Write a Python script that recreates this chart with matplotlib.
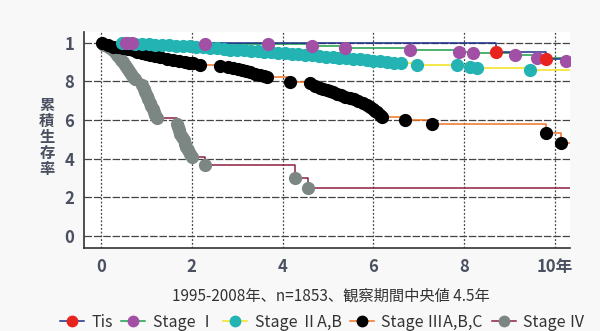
import matplotlib.pyplot as plt

plt.rcParams['font.family'] = ['Noto Sans CJK JP', 'DejaVu Sans']

# Kaplan-Meier style data (time in years, cumulative survival 0-1)
# first entry of each list is the start point (no marker)
tis_t = [0.0, 8.70, 9.80]
tis_s = [1.0, 0.953, 0.915]

st1_t = [0.0, 0.55, 0.68, 2.29, 3.68, 4.65, 5.37, 6.81, 7.89, 8.19, 9.12, 9.60, 10.24]
st1_s = [1.0, 0.998, 0.997, 0.995, 0.993, 0.982, 0.972, 0.961, 0.951, 0.946, 0.935, 0.920, 0.904]

st2_t = [0.0, 0.46, 0.60, 0.75, 0.90, 1.05, 1.20, 1.35, 1.50, 1.65, 1.80, 1.95, 2.10,
         2.25, 2.40, 2.55, 2.70, 2.85, 3.00, 3.15, 3.30, 3.45, 3.60, 3.75, 3.90, 4.05,
         4.20, 4.35, 4.50, 4.65, 4.80, 4.95, 5.10, 5.25, 5.40, 5.55, 5.70, 5.85, 6.00,
         6.15, 6.30, 6.45, 6.60, 6.96, 7.84, 8.13, 8.28, 9.45]
st2_s = [1.0, 0.997, 0.996, 0.995, 0.993, 0.991, 0.990, 0.988, 0.986, 0.984, 0.982, 0.980, 0.978,
         0.975, 0.972, 0.970, 0.967, 0.964, 0.962, 0.960, 0.957, 0.955, 0.952, 0.950, 0.948, 0.946,
         0.943, 0.940, 0.937, 0.934, 0.931, 0.928, 0.925, 0.922, 0.919, 0.916, 0.913, 0.910, 0.907,
         0.903, 0.900, 0.897, 0.894, 0.884, 0.884, 0.873, 0.868, 0.858]

st3_t = [0.0, 0.02, 0.15, 0.26, 0.37, 0.48, 0.59, 0.70, 0.80, 0.90, 0.99, 1.08, 1.19, 1.30,
         1.45, 1.59, 1.72, 1.85, 1.94, 2.03, 2.18, 2.62, 2.80, 2.91, 3.01, 3.11, 3.20, 3.28,
         3.39, 3.50, 3.58, 3.66, 4.16, 4.60, 4.71, 4.82, 4.90, 4.98, 5.05, 5.11, 5.20, 5.29,
         5.38, 5.48, 5.57, 5.66, 5.76, 5.86, 5.93, 5.99, 6.04, 6.08, 6.14, 6.19, 6.70, 7.29,
         9.80, 10.13]
st3_s = [1.0, 0.997, 0.987, 0.977, 0.975, 0.972, 0.966, 0.961, 0.954, 0.946, 0.941, 0.936, 0.930, 0.925,
         0.917, 0.910, 0.904, 0.899, 0.896, 0.894, 0.884, 0.879, 0.873, 0.868, 0.863, 0.858, 0.853, 0.848,
         0.840, 0.832, 0.827, 0.822, 0.796, 0.791, 0.778, 0.765, 0.760, 0.755, 0.750, 0.744, 0.736, 0.729,
         0.721, 0.713, 0.706, 0.698, 0.687, 0.677, 0.666, 0.656, 0.648, 0.641, 0.628, 0.615, 0.599, 0.579,
         0.532, 0.481]

st4_t = [0.0, 0.07, 0.14, 0.20, 0.26, 0.31, 0.36, 0.40, 0.44, 0.48, 0.53, 0.57, 0.62, 0.66,
         0.71, 0.75, 0.90, 0.94, 0.97, 1.01, 1.04, 1.07, 1.10, 1.14, 1.17, 1.20, 1.23, 1.67,
         1.70, 1.72, 1.75, 1.78, 1.82, 1.85, 1.88, 1.92, 1.96, 2.00, 2.29, 4.27, 4.56]
st4_s = [1.0, 0.987, 0.980, 0.972, 0.962, 0.951, 0.938, 0.925, 0.912, 0.899, 0.884, 0.868, 0.852, 0.837,
         0.824, 0.811, 0.780, 0.762, 0.744, 0.726, 0.708, 0.690, 0.672, 0.656, 0.641, 0.626, 0.610, 0.579,
         0.564, 0.548, 0.530, 0.512, 0.494, 0.475, 0.460, 0.444, 0.426, 0.408, 0.367, 0.300, 0.248]

series = [
    ("Stage Ⅳ", st4_t, st4_s, "#8b1f3f", "#7c8784"),
    ("Stage ⅢA,B,C", st3_t, st3_s, "#ef7424", "#000000"),
    ("Stage ⅡA,B", st2_t, st2_s, "#f2e21a", "#23b3b3"),
    ("Stage Ⅰ", st1_t, st1_s, "#1a9e48", "#a24fa6"),
    ("Tis", tis_t, tis_s, "#1c2f8a", "#e8231d"),
]
legend_order = ["Tis", "Stage Ⅰ", "Stage ⅡA,B", "Stage ⅢA,B,C", "Stage Ⅳ"]
end_x = 10.33

fig = plt.figure(figsize=(6, 3.31), dpi=100)
fig.patch.set_facecolor('#f8f8f8')
ax = fig.add_axes([0.14, 0.2508, 0.81, 0.652])
ax.set_facecolor('white')

handles = {}
for i, (name, t, s, lc, mc) in enumerate(series):
    ax.step(t + [end_x], s + [s[-1]], where='post', color=lc, lw=1.1, zorder=3 + i)
    ax.plot(t[1:], s[1:], 'o', color=mc, ms=9.5, mec='none', zorder=10 + i)
    h, = ax.plot([], [], '-o', color=lc, mfc=mc, mec='none', ms=8.5, lw=1.1)
    handles[name] = h

ax.set_xlim(-0.374, end_x)
ax.set_ylim(-0.062, 1.054)
ax.set_xticks([0, 2, 4, 6, 8, 10])
ax.set_xticklabels(['0', '2', '4', '6', '8', '10年'])
ax.set_yticks([0, 0.2, 0.4, 0.6, 0.8, 1.0])
ax.set_yticklabels(['0', '2', '4', '6', '8', '1'])

tick_col = '#4a5060'
for lab in ax.get_xticklabels() + ax.get_yticklabels():
    lab.set_fontsize(12)
    lab.set_fontweight('bold')
    lab.set_color(tick_col)
ax.tick_params(length=0, pad=7)

ax.grid(axis='y', color='#444444', lw=0.9, linestyle=(0, (6, 1.5)))
ax.grid(axis='x', color='#444444', lw=0.9, linestyle=(0, (1.5, 1.5)))
ax.set_axisbelow(True)
for side in ['top', 'right']:
    ax.spines[side].set_visible(False)
for side in ['left', 'bottom']:
    ax.spines[side].set_color('#333333')
    ax.spines[side].set_linewidth(1.2)

fig.text(0.078, 0.585, '\n'.join('累積生存率'), ha='center', va='center',
         fontsize=11, fontweight='bold', color=tick_col, linespacing=1.0)

fig.text(0.552, 0.106, '1995-2008年、n=1853、観察期間中央値 4.5年',
         ha='center', va='center', fontsize=11, color='#333333')

fig.legend([handles[n] for n in legend_order], legend_order, loc='center left',
           bbox_to_anchor=(0.1, 0.027), ncol=5, frameon=False, fontsize=11.5,
           handlelength=1.5, handletextpad=0.45, columnspacing=0.55,
           labelcolor='#333333', borderaxespad=0, borderpad=0)

fig.savefig('out.png', dpi=100, facecolor=fig.get_facecolor())
